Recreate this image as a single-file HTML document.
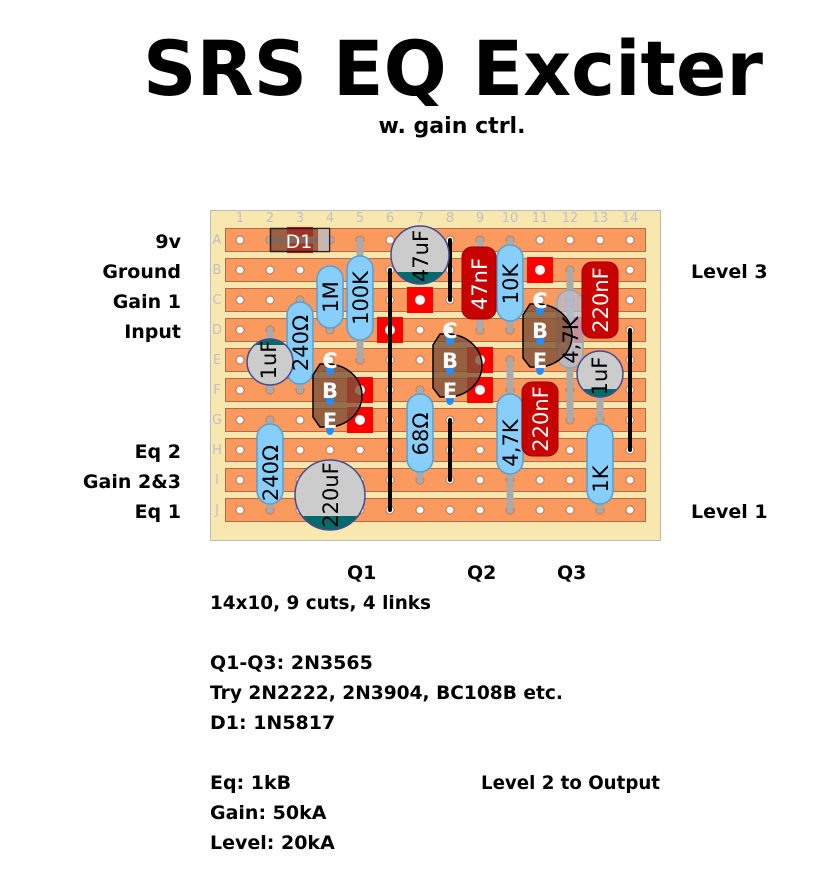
<!DOCTYPE html>
<html><head><meta charset="utf-8"><style>
html,body{margin:0;padding:0;background:#fff;}
svg{display:block;}
.t{font-family:"DejaVu Sans","Liberation Sans",sans-serif;font-weight:bold;}
.lab{font-family:"DejaVu Sans","Liberation Sans",sans-serif;font-size:21px;}
</style></head><body>
<svg width="825" height="884" viewBox="0 0 825 884" xmlns="http://www.w3.org/2000/svg">
<text x="453" y="95" text-anchor="middle" font-family="'DejaVu Sans','Liberation Sans',sans-serif" font-weight="bold" font-size="76" textLength="620" lengthAdjust="spacingAndGlyphs">SRS EQ Exciter</text>
<text x="452" y="133" text-anchor="middle" class="t" font-size="22" textLength="147" lengthAdjust="spacingAndGlyphs">w. gain ctrl.</text>

<!-- board -->
<rect x="210.5" y="210.5" width="450" height="330" fill="#f8e8b0" stroke="#bbb"/>
<g font-family="'DejaVu Sans',sans-serif" font-size="13" fill="#c0c0c0" text-anchor="middle">
<text x="240" y="222">1</text><text x="270" y="222">2</text><text x="300" y="222">3</text><text x="330" y="222">4</text><text x="360" y="222">5</text><text x="390" y="222">6</text><text x="420" y="222">7</text><text x="450" y="222">8</text><text x="480" y="222">9</text><text x="510" y="222">10</text><text x="540" y="222">11</text><text x="570" y="222">12</text><text x="600" y="222">13</text><text x="630" y="222">14</text>
<text x="217" y="244">A</text><text x="217" y="274">B</text><text x="217" y="304">C</text><text x="217" y="334">D</text><text x="217" y="364">E</text><text x="217" y="394">F</text><text x="217" y="424">G</text><text x="217" y="454">H</text><text x="217" y="484">I</text><text x="217" y="514">J</text>
</g>
<g fill="#fa9a5e" stroke="#b96a45" stroke-width="1">
<rect x="225.5" y="228.5" width="420" height="23"/><rect x="225.5" y="258.5" width="420" height="23"/><rect x="225.5" y="288.5" width="420" height="23"/><rect x="225.5" y="318.5" width="420" height="23"/><rect x="225.5" y="348.5" width="420" height="23"/><rect x="225.5" y="378.5" width="420" height="23"/><rect x="225.5" y="408.5" width="420" height="23"/><rect x="225.5" y="438.5" width="420" height="23"/><rect x="225.5" y="468.5" width="420" height="23"/><rect x="225.5" y="498.5" width="420" height="23"/>
</g>
<g id="holes" fill="#fff" stroke="#c07050" stroke-width="1"></g>
<g fill="#f00">
<rect x="287" y="227" width="26" height="26"/>
<rect x="407" y="287" width="26" height="26"/>
<rect x="377" y="317" width="26" height="26"/>
<rect x="527" y="257" width="26" height="26"/>
<rect x="467" y="347" width="26" height="26"/>
<rect x="467" y="377" width="26" height="26"/>
<rect x="347" y="377" width="26" height="26"/>
<rect x="347" y="407" width="26" height="26"/>
<rect x="557" y="317" width="26" height="26"/>
</g>
<g fill="#fff"><circle cx="420" cy="300" r="5"/><circle cx="390" cy="330" r="5"/><circle cx="540" cy="270" r="5"/><circle cx="480" cy="360" r="5"/><circle cx="480" cy="390" r="5"/><circle cx="360" cy="390" r="5"/><circle cx="360" cy="420" r="5"/></g>
<g stroke="#000" stroke-width="4" stroke-linecap="round">
<line x1="390" y1="270" x2="390" y2="510"/><line x1="450" y1="240" x2="450" y2="300"/><line x1="450" y1="420" x2="450" y2="480"/><line x1="630" y1="330" x2="630" y2="450"/>
</g>
<g stroke="#aaa" stroke-width="7" stroke-linecap="round">
<line x1="270" y1="240" x2="330" y2="240"/>
<line x1="330" y1="270" x2="330" y2="330"/>
<line x1="360" y1="240" x2="360" y2="360"/>
<line x1="300" y1="300" x2="300" y2="390"/>
<line x1="270" y1="330" x2="270" y2="390"/>
<line x1="480" y1="240" x2="480" y2="330"/>
<line x1="510" y1="240" x2="510" y2="330"/>
<line x1="570" y1="270" x2="570" y2="390"/>
<line x1="600" y1="270" x2="600" y2="330"/>
<line x1="600" y1="360" x2="600" y2="420"/>
<line x1="570" y1="390" x2="570" y2="420"/>
<line x1="420" y1="390" x2="420" y2="480"/>
<line x1="510" y1="360" x2="510" y2="510"/>
<line x1="540" y1="390" x2="540" y2="450"/>
<line x1="270" y1="420" x2="270" y2="510"/>
<line x1="600" y1="420" x2="600" y2="510"/>
</g>
<rect x="270.5" y="228.5" width="59" height="23" fill="rgba(120,70,50,0.7)" stroke="#222" stroke-width="1.5"/>
<rect x="318" y="229" width="11" height="22" fill="rgba(220,220,220,0.7)"/>
<text x="299" y="248" text-anchor="middle" fill="#fff" font-family="'DejaVu Sans',sans-serif" font-size="19">D1</text>
<g fill="#87cefa" stroke="#5a9fd0" stroke-width="1.5">
<rect x="317" y="266" width="26" height="62" rx="13"/>
<rect x="347" y="256" width="26" height="84" rx="13"/>
<rect x="287" y="302" width="26" height="82" rx="13"/>
<rect x="497" y="245" width="26" height="76" rx="13"/>
<rect x="407" y="394" width="26" height="78" rx="13"/>
<rect x="497" y="394" width="26" height="80" rx="13"/>
<rect x="257" y="424" width="26" height="80" rx="13"/>
<rect x="587" y="424" width="26" height="80" rx="13"/>
</g>
<rect x="557" y="290" width="26" height="78" rx="13" fill="rgba(180,190,210,0.75)" stroke="#8aa" stroke-width="1.5"/>
<g fill="#c80000" stroke="#900" stroke-width="1">
<rect x="462" y="247" width="34" height="72" rx="10"/>
<rect x="582" y="262" width="36" height="76" rx="10"/>
<rect x="522" y="382" width="36" height="74" rx="10"/>
</g>
<defs>
<clipPath id="c1"><circle cx="420" cy="255" r="29"/></clipPath>
<clipPath id="c2"><circle cx="270" cy="362" r="23"/></clipPath>
<clipPath id="c3"><circle cx="600" cy="374" r="23"/></clipPath>
<clipPath id="c4"><circle cx="330" cy="495" r="35"/></clipPath>
</defs>
<circle cx="420" cy="255" r="29" fill="#ccc"/><rect x="390" y="272" width="60" height="20" fill="#006b6b" clip-path="url(#c1)"/><circle cx="420" cy="255" r="29" fill="none" stroke="#4a4a90" stroke-width="1.5"/>
<circle cx="270" cy="362" r="23" fill="#ccc"/><rect x="245" y="337" width="50" height="8" fill="#006b6b" clip-path="url(#c2)"/><circle cx="270" cy="362" r="23" fill="none" stroke="#4a4a90" stroke-width="1.5"/>
<circle cx="600" cy="374" r="23" fill="#ccc"/><rect x="575" y="389" width="50" height="10" fill="#006b6b" clip-path="url(#c3)"/><circle cx="600" cy="374" r="23" fill="none" stroke="#4a4a90" stroke-width="1.5"/>
<circle cx="330" cy="495" r="35" fill="#ccc"/><rect x="294" y="516" width="72" height="20" fill="#006b6b" clip-path="url(#c4)"/><circle cx="330" cy="495" r="35" fill="none" stroke="#4a4a90" stroke-width="1.5"/>
<g fill="rgba(125,80,55,0.8)" stroke="#000" stroke-width="1.5">
<path d="M313,375 L320,364 L327,364 A35 31.5 0 0 1 327,427 L320,427 L313,417 Z"/>
<path d="M433,345 L440,334 L447,334 A35 31.5 0 0 1 447,397 L440,397 L433,388 Z"/>
<path d="M523,315 L530,304 L537,304 A35 31.5 0 0 1 537,367 L530,367 L523,358 Z"/>
</g>
<g fill="#1e90ff">
<ellipse cx="330" cy="370" rx="4" ry="5"/><ellipse cx="330" cy="400" rx="4" ry="5"/><ellipse cx="330" cy="430" rx="4" ry="5"/>
<ellipse cx="450" cy="340" rx="4" ry="5"/><ellipse cx="450" cy="370" rx="4" ry="5"/><ellipse cx="450" cy="400" rx="4" ry="5"/>
<ellipse cx="540" cy="310" rx="4" ry="5"/><ellipse cx="540" cy="340" rx="4" ry="5"/><ellipse cx="540" cy="370" rx="4" ry="5"/>
</g>
<g fill="#fff" class="t" font-size="21" text-anchor="middle">
<text x="330" y="368">C</text><text x="330" y="398">B</text><text x="330" y="428">E</text>
<text x="450" y="338">C</text><text x="450" y="368">B</text><text x="450" y="398">E</text>
<text x="540" y="308">C</text><text x="540" y="338">B</text><text x="540" y="368">E</text>
</g>
<g class="lab" text-anchor="middle" dominant-baseline="central">
<text transform="translate(421,256) rotate(-90)">47uF</text>
<text transform="translate(331,297) rotate(-90)">1M</text>
<text transform="translate(361,298) rotate(-90)">100K</text>
<text transform="translate(301,343) rotate(-90)">240Ω</text>
<text transform="translate(269,360) rotate(-90)">1uF</text>
<text fill="#fff" transform="translate(480,284) rotate(-90)">47nF</text>
<text transform="translate(511,284) rotate(-90)">10K</text>
<text transform="translate(571,340) rotate(-90)">4,7K</text>
<text fill="#fff" transform="translate(601,300) rotate(-90)">220nF</text>
<text transform="translate(600,376) rotate(-90)">1uF</text>
<text transform="translate(421,434) rotate(-90)">68Ω</text>
<text transform="translate(511,443) rotate(-90)">4,7K</text>
<text fill="#fff" transform="translate(541,419) rotate(-90)">220nF</text>
<text transform="translate(271,473) rotate(-90)">240Ω</text>
<text transform="translate(331,495) rotate(-90)">220uF</text>
<text transform="translate(601,479) rotate(-90)">1K</text>
</g>
<g class="t" font-size="19" text-anchor="end">
<text x="181" y="248">9v</text><text x="181" y="278">Ground</text><text x="181" y="308">Gain 1</text><text x="181" y="338">Input</text>
<text x="181" y="458">Eq 2</text><text x="181" y="488">Gain 2&amp;3</text><text x="181" y="518">Eq 1</text>
</g>
<g class="t" font-size="19">
<text x="691" y="278">Level 3</text><text x="691" y="518">Level 1</text>
<text x="347" y="579">Q1</text><text x="467" y="579">Q2</text><text x="557" y="579">Q3</text>
<text x="210" y="609" textLength="221" lengthAdjust="spacingAndGlyphs">14x10, 9 cuts, 4 links</text>
<text x="210" y="669">Q1-Q3: 2N3565</text>
<text x="210" y="699" textLength="353" lengthAdjust="spacingAndGlyphs">Try 2N2222, 2N3904, BC108B etc.</text>
<text x="210" y="729">D1: 1N5817</text>
<text x="210" y="789">Eq: 1kB</text>
<text x="481" y="789" textLength="179" lengthAdjust="spacingAndGlyphs">Level 2 to Output</text>
<text x="210" y="819">Gain: 50kA</text>
<text x="210" y="849">Level: 20kA</text>
</g>
</svg>
<script>
(function(){var g=document.getElementById('holes');var ns='http://www.w3.org/2000/svg';
for(var r=0;r<10;r++)for(var c=0;c<14;c++){var e=document.createElementNS(ns,'circle');e.setAttribute('cx',240+c*30);e.setAttribute('cy',240+r*30);e.setAttribute('r',4);g.appendChild(e);}})();
</script>
</body></html>
